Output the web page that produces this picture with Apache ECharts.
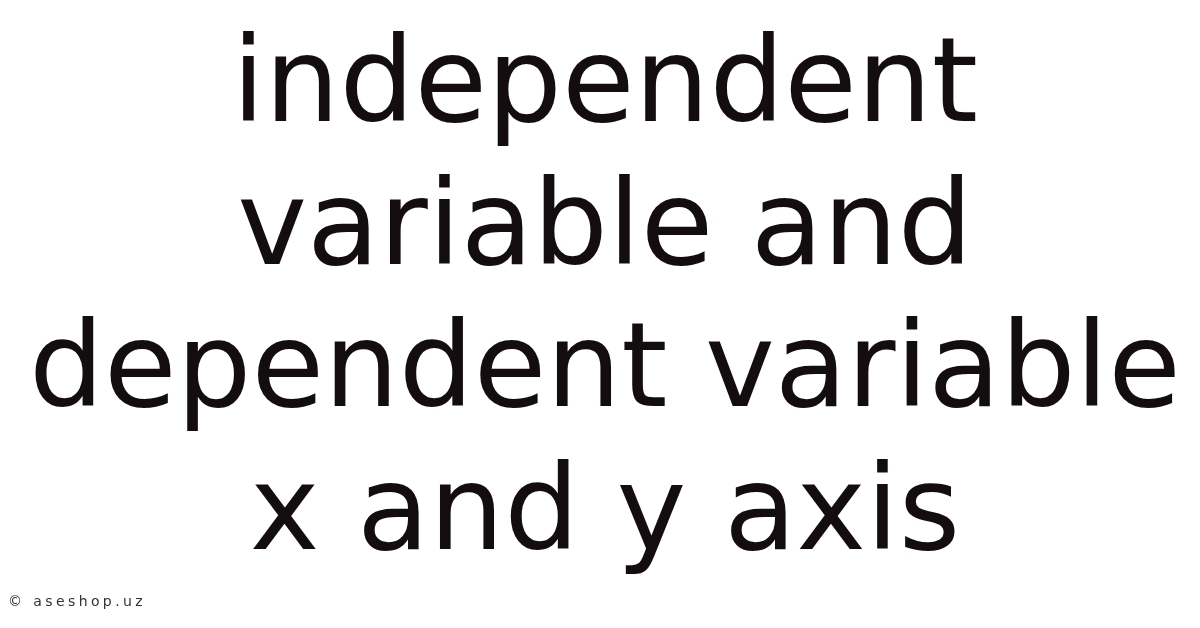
<!DOCTYPE html>
<html>
	<head>
		<meta charset="UTF-8">
		<title></title>
		<script src="https://cdn.jsdelivr.net/npm/echarts@6/dist/echarts.min.js"></script>
	</head>
	<style>
		html,body{margin:0;padding:0;background:#fff;}
		#main{width:1200px;height:628px;}
	</style>
	<body>
		<div id="main"></div>
	</body>
	<script>
		// text content of the card
		var titleLines = ['independent', 'variable and', 'dependent variable', 'x and y axis'];
		var footerText = '\u00a9 aseshop.uz';

		var chart = echarts.init(document.getElementById('main'));

		var fontSize = 118;
		var lineGap = 142.5;
		var firstBaseline = 122.5;
		var descent = 27; // 'bottom' anchor sits below the baseline

		// footer gets its own canvas layer so it can be letter-spaced
		try {
			var footLayer = chart.getZr().painter.getLayer(1);
			footLayer.ctx.letterSpacing = '3.4px';
		} catch (e) {}

		var items = titleLines.map(function (line, i) {
			return {
				type: 'text',
				x: 605,
				y: firstBaseline + descent + i * lineGap,
				style: {
					text: line,
					fill: '#140d10',
					font: 'normal ' + fontSize + 'px "DejaVu Sans"',
					textAlign: 'center',
					textVerticalAlign: 'bottom'
				}
			};
		});

		items.push({
			type: 'text',
			zlevel: 1,
			x: 8,
			y: 602,
			style: {
				text: footerText,
				fill: '#333',
				font: 'normal 14px "DejaVu Sans"',
				textAlign: 'left',
				textVerticalAlign: 'middle'
			}
		});

		chart.setOption({
			backgroundColor: '#fff',
			animation: false,
			graphic: items
		});
	</script>
</html>
